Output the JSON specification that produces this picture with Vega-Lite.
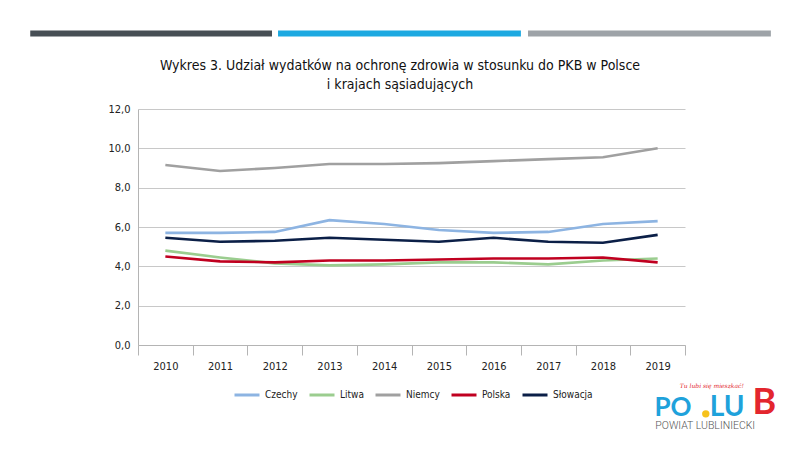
{
  "$schema": "https://vega.github.io/schema/vega-lite/v6.json",
  "width": 547,
  "height": 236,
  "autosize": "none",
  "padding": {"left": 138, "top": 109, "right": 115, "bottom": 105},
  "background": "white",
  "config": {"font": "DejaVu Sans Condensed, Roboto, sans-serif", "view": {"stroke": null}},
  "layer": [
    {
      "data": {"values": [
        {"year": "2010", "country": "Czechy", "value": 5.7},
        {"year": "2011", "country": "Czechy", "value": 5.7},
        {"year": "2012", "country": "Czechy", "value": 5.75},
        {"year": "2013", "country": "Czechy", "value": 6.35},
        {"year": "2014", "country": "Czechy", "value": 6.15},
        {"year": "2015", "country": "Czechy", "value": 5.85},
        {"year": "2016", "country": "Czechy", "value": 5.7},
        {"year": "2017", "country": "Czechy", "value": 5.75},
        {"year": "2018", "country": "Czechy", "value": 6.15},
        {"year": "2019", "country": "Czechy", "value": 6.3},
        {"year": "2010", "country": "Litwa", "value": 4.8},
        {"year": "2011", "country": "Litwa", "value": 4.45},
        {"year": "2012", "country": "Litwa", "value": 4.15},
        {"year": "2013", "country": "Litwa", "value": 4.05},
        {"year": "2014", "country": "Litwa", "value": 4.1},
        {"year": "2015", "country": "Litwa", "value": 4.2},
        {"year": "2016", "country": "Litwa", "value": 4.2},
        {"year": "2017", "country": "Litwa", "value": 4.1},
        {"year": "2018", "country": "Litwa", "value": 4.3},
        {"year": "2019", "country": "Litwa", "value": 4.4},
        {"year": "2010", "country": "Niemcy", "value": 9.15},
        {"year": "2011", "country": "Niemcy", "value": 8.85},
        {"year": "2012", "country": "Niemcy", "value": 9.0},
        {"year": "2013", "country": "Niemcy", "value": 9.2},
        {"year": "2014", "country": "Niemcy", "value": 9.2},
        {"year": "2015", "country": "Niemcy", "value": 9.25},
        {"year": "2016", "country": "Niemcy", "value": 9.35},
        {"year": "2017", "country": "Niemcy", "value": 9.45},
        {"year": "2018", "country": "Niemcy", "value": 9.55},
        {"year": "2019", "country": "Niemcy", "value": 10.0},
        {"year": "2010", "country": "Polska", "value": 4.5},
        {"year": "2011", "country": "Polska", "value": 4.25},
        {"year": "2012", "country": "Polska", "value": 4.2},
        {"year": "2013", "country": "Polska", "value": 4.3},
        {"year": "2014", "country": "Polska", "value": 4.3},
        {"year": "2015", "country": "Polska", "value": 4.35},
        {"year": "2016", "country": "Polska", "value": 4.4},
        {"year": "2017", "country": "Polska", "value": 4.4},
        {"year": "2018", "country": "Polska", "value": 4.45},
        {"year": "2019", "country": "Polska", "value": 4.2},
        {"year": "2010", "country": "Słowacja", "value": 5.45},
        {"year": "2011", "country": "Słowacja", "value": 5.25},
        {"year": "2012", "country": "Słowacja", "value": 5.3},
        {"year": "2013", "country": "Słowacja", "value": 5.45},
        {"year": "2014", "country": "Słowacja", "value": 5.35},
        {"year": "2015", "country": "Słowacja", "value": 5.25},
        {"year": "2016", "country": "Słowacja", "value": 5.45},
        {"year": "2017", "country": "Słowacja", "value": 5.25},
        {"year": "2018", "country": "Słowacja", "value": 5.2},
        {"year": "2019", "country": "Słowacja", "value": 5.6}
      ]},
      "mark": {"type": "line", "strokeWidth": 2.6},
      "encoding": {
        "x": {
          "field": "year",
          "type": "ordinal",
          "scale": {"type": "band", "paddingInner": 0, "paddingOuter": 0},
          "axis": {
            "title": null,
            "labelAngle": 0,
            "labelFontSize": 11,
            "labelColor": "#222222",
            "labelPadding": 5,
            "domainColor": "#b4b4b4",
            "tickColor": "#b4b4b4",
            "tickSize": 10,
            "tickBand": "extent",
            "tickExtra": false,
            "grid": false
          }
        },
        "y": {
          "field": "value",
          "type": "quantitative",
          "scale": {"domain": [0, 12], "nice": false},
          "axis": {
            "title": null,
            "values": [0, 2, 4, 6, 8, 10, 12],
            "labelExpr": "replace(format(datum.value, '.1f'), '.', ',')",
            "labelOverlap": false,
            "ticks": false,
            "labelPadding": 8,
            "labelFontSize": 11,
            "labelColor": "#222222",
            "domainColor": "#b4b4b4",
            "gridColor": "#c8c8c8"
          }
        },
        "color": {
          "field": "country",
          "type": "nominal",
          "scale": {
            "domain": ["Czechy", "Litwa", "Niemcy", "Polska", "Słowacja"],
            "range": ["#8DB4E2", "#9BCD8F", "#A0A0A0", "#C00020", "#0B1F47"]
          },
          "legend": {
            "title": null,
            "orient": "none",
            "legendX": 95,
            "legendY": 272,
            "direction": "horizontal",
            "symbolType": "stroke",
            "symbolSize": 625,
            "symbolStrokeWidth": 3,
            "labelFontSize": 10,
            "labelColor": "#222222",
            "labelOffset": 4,
            "columnPadding": 5
          }
        }
      }
    },
    {
      "data": {"values": [{"part": "title"}]},
      "mark": {
        "type": "text",
        "text": ["Wykres 3. Udział wydatków na ochronę zdrowia w stosunku do PKB w Polsce", "i krajach sąsiadujących"],
        "font": "DejaVu Sans Condensed, Roboto, sans-serif",
        "fontSize": 14,
        "lineHeight": 19,
        "align": "center",
        "baseline": "middle",
        "color": "#111111"
      },
      "encoding": {
        "x": {"datum": 0.479, "type": "quantitative", "scale": {"domain": [0, 1]}, "axis": null},
        "y": {"datum": 14.18, "type": "quantitative", "scale": {"domain": [0, 12], "nice": false}, "axis": null}
      }
    },
    {
      "data": {"values": [{"part": "top bar 1"}]},
      "mark": {"type": "rule", "strokeWidth": 6, "color": "#474F55"},
      "encoding": {
        "x": {"datum": -0.197, "type": "quantitative", "scale": {"domain": [0, 1]}, "axis": null},
        "x2": {"datum": 0.245},
        "y": {"datum": 15.84, "type": "quantitative", "scale": {"domain": [0, 12], "nice": false}, "axis": null}
      }
    },
    {
      "data": {"values": [{"part": "top bar 2"}]},
      "mark": {"type": "rule", "strokeWidth": 6, "color": "#1CA9E1"},
      "encoding": {
        "x": {"datum": 0.256, "type": "quantitative", "scale": {"domain": [0, 1]}, "axis": null},
        "x2": {"datum": 0.700},
        "y": {"datum": 15.84, "type": "quantitative", "scale": {"domain": [0, 12], "nice": false}, "axis": null}
      }
    },
    {
      "data": {"values": [{"part": "top bar 3"}]},
      "mark": {"type": "rule", "strokeWidth": 6, "color": "#9EA3A8"},
      "encoding": {
        "x": {"datum": 0.713, "type": "quantitative", "scale": {"domain": [0, 1]}, "axis": null},
        "x2": {"datum": 1.157},
        "y": {"datum": 15.84, "type": "quantitative", "scale": {"domain": [0, 12], "nice": false}, "axis": null}
      }
    },
    {
      "data": {"values": [{"part": "slogan"}]},
      "mark": {"type": "text", "text": "Tu lubi się mieszkać!", "font": "DejaVu Serif", "fontStyle": "italic", "fontSize": 6, "color": "#E3262E"},
      "encoding": {
        "x": {"datum": 1.049, "type": "quantitative", "scale": {"domain": [0, 1]}, "axis": null},
        "y": {"datum": -2.1, "type": "quantitative", "scale": {"domain": [0, 12], "nice": false}, "axis": null}
      }
    },
    {
      "data": {"values": [{"part": "logo PO"}]},
      "mark": {"type": "text", "text": "PO", "font": "Lato", "fontWeight": "bold", "fontSize": 26, "color": "#1FA2DB"},
      "encoding": {
        "x": {"datum": 0.978, "type": "quantitative", "scale": {"domain": [0, 1]}, "axis": null},
        "y": {"datum": -3.2, "type": "quantitative", "scale": {"domain": [0, 12], "nice": false}, "axis": null}
      }
    },
    {
      "data": {"values": [{"part": "logo dot"}]},
      "mark": {"type": "point", "filled": true, "size": 55, "opacity": 1, "color": "#F6C21C"},
      "encoding": {
        "x": {"datum": 1.038, "type": "quantitative", "scale": {"domain": [0, 1]}, "axis": null},
        "y": {"datum": -3.5, "type": "quantitative", "scale": {"domain": [0, 12], "nice": false}, "axis": null}
      }
    },
    {
      "data": {"values": [{"part": "logo LU"}]},
      "mark": {"type": "text", "text": "LU", "font": "Lato", "fontWeight": "bold", "fontSize": 28, "color": "#1FA2DB"},
      "encoding": {
        "x": {"datum": 1.077, "type": "quantitative", "scale": {"domain": [0, 1]}, "axis": null},
        "y": {"datum": -3.2, "type": "quantitative", "scale": {"domain": [0, 12], "nice": false}, "axis": null}
      }
    },
    {
      "data": {"values": [{"part": "logo B"}]},
      "mark": {"type": "text", "text": "B", "font": "Lato", "fontWeight": "bold", "fontSize": 36, "color": "#E3262E"},
      "encoding": {
        "x": {"datum": 1.145, "type": "quantitative", "scale": {"domain": [0, 1]}, "axis": null},
        "y": {"datum": -2.95, "type": "quantitative", "scale": {"domain": [0, 12], "nice": false}, "axis": null}
      }
    },
    {
      "data": {"values": [{"part": "logo caption"}]},
      "mark": {"type": "text", "text": "POWIAT LUBLINIECKI", "font": "Roboto", "fontWeight": 300, "fontSize": 10.5, "color": "#555555"},
      "encoding": {
        "x": {"datum": 1.037, "type": "quantitative", "scale": {"domain": [0, 1]}, "axis": null},
        "y": {"datum": -4.12, "type": "quantitative", "scale": {"domain": [0, 12], "nice": false}, "axis": null}
      }
    }
  ],
  "resolve": {"scale": {"x": "independent", "y": "independent"}}
}
